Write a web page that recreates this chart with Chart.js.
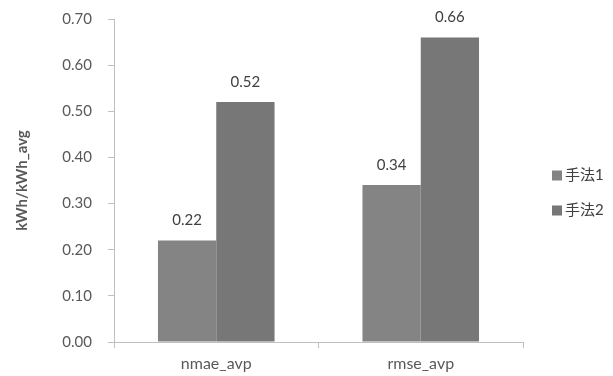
<!DOCTYPE html>
<html>
<head>
<meta charset="utf-8">
<script src="https://cdn.jsdelivr.net/npm/chart.js@4"></script>
<style>
  html, body { margin: 0; padding: 0; background: #fff; }
  #wrap { width: 613px; height: 376px; }
</style>
</head>
<body>
<div id="wrap"><canvas id="chart" width="613" height="376"></canvas></div>
<script>
// chart data
const categories = ['nmae_avp', 'rmse_avp'];
const seriesNames = ['手法1', '手法2'];
const method1 = [0.22, 0.34];
const method2 = [0.52, 0.66];
const yTicks = [0, 0.1, 0.2, 0.3, 0.4, 0.5, 0.6, 0.7];

const FONT = "Lato, 'Noto Sans CJK JP', sans-serif";
const TEXT = '#595959';

// draws the value above each bar
const valueLabels = {
    id: 'valueLabels',
    afterDatasetsDraw(chart) {
        const ctx = chart.ctx;
        ctx.save();
        ctx.font = '15px ' + FONT;
        ctx.fillStyle = '#404040';
        ctx.textAlign = 'center';
        ctx.textBaseline = 'alphabetic';
        chart.data.datasets.forEach((ds, i) => {
            chart.getDatasetMeta(i).data.forEach((bar, j) => {
                ctx.fillText(ds.data[j].toFixed(2), bar.x, bar.y - 15);
            });
        });
        ctx.restore();
    }
};

// simple legend to the right of the plot, Excel style
const sideLegend = {
    id: 'sideLegend',
    afterDraw(chart) {
        const ctx = chart.ctx;
        const area = chart.chartArea;
        const x = area.right + 29;
        let y = (area.top + area.bottom) / 2 - 5;
        ctx.save();
        ctx.font = '15px ' + FONT;
        ctx.textBaseline = 'middle';
        ctx.textAlign = 'left';
        chart.data.datasets.forEach(ds => {
            ctx.fillStyle = ds.backgroundColor;
            ctx.fillRect(x, y - 5, 10, 10);
            ctx.fillStyle = '#404040';
            ctx.fillText(ds.label, x + 13, y);
            y += 35;
        });
        ctx.restore();
    }
};

new Chart(document.getElementById('chart').getContext('2d'), {
    type: 'bar',
    data: {
        labels: categories,
        datasets: [{
            label: seriesNames[0],
            data: method1,
            backgroundColor: '#848484'
        }, {
            label: seriesNames[1],
            data: method2,
            backgroundColor: '#777777'
        }]
    },
    options: {
        responsive: false,
        animation: false,
        layout: { padding: { top: 19, right: 90, left: 0, bottom: 0 } },
        datasets: {
            bar: { barPercentage: 1, categoryPercentage: 0.57 }
        },
        plugins: {
            legend: { display: false },
            tooltip: { enabled: false }
        },
        scales: {
            x: {
                afterFit(scale) { scale.height = 34; },
                grid: {
                    offset: true,
                    drawOnChartArea: false,
                    tickLength: 6,
                    color: '#bfbfbf'
                },
                border: { color: '#bfbfbf' },
                ticks: {
                    color: TEXT,
                    padding: 6,
                    font: { family: FONT, size: 16 }
                }
            },
            y: {
                min: 0,
                max: 0.7,
                afterFit(scale) {
                    scale.width = 114;
                    scale.paddingTop = 0;
                    scale.paddingBottom = 0;
                },
                afterBuildTicks(scale) {
                    scale.ticks = yTicks.map(v => ({ value: v }));
                },
                grid: {
                    drawOnChartArea: false,
                    tickLength: 6,
                    color: '#bfbfbf'
                },
                border: { color: '#bfbfbf' },
                ticks: {
                    color: TEXT,
                    padding: 16,
                    font: { family: FONT, size: 15 },
                    callback: v => Number(v).toFixed(2)
                },
                title: {
                    display: true,
                    text: 'kWh/kWh_avg',
                    color: TEXT,
                    padding: { top: 13, bottom: 0 },
                    font: { family: FONT, size: 15, weight: 'bold' }
                }
            }
        }
    },
    plugins: [valueLabels, sideLegend]
});
</script>
</body>
</html>
